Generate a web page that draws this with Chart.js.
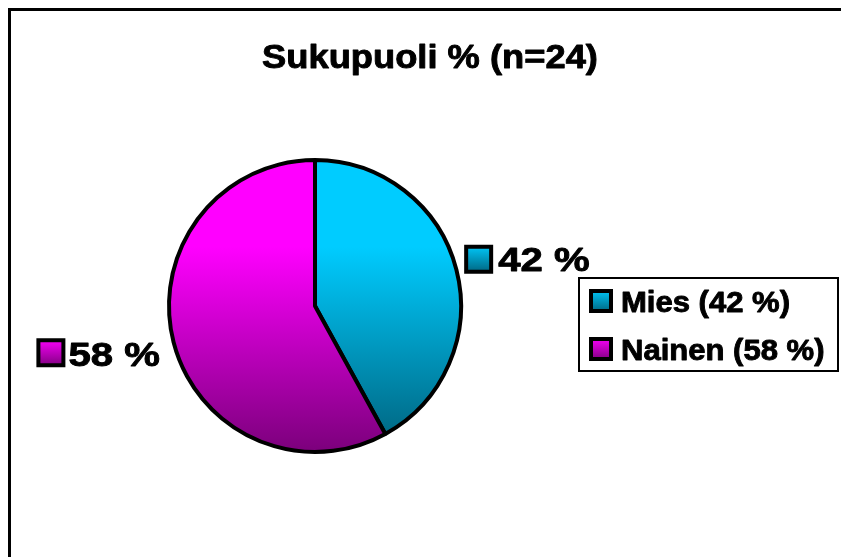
<!DOCTYPE html>
<html>
<head>
<meta charset="utf-8">
<script src="https://cdn.jsdelivr.net/npm/chart.js@4/dist/chart.umd.min.js"></script>
<style>
  body { margin: 0; background: #fff; }
  canvas { display: block; }
</style>
</head>
<body>
<canvas id="pieChart" width="841" height="557"></canvas>
<script>
"use strict";

// chart data
const titleText = 'Sukupuoli % (n=24)';
const categories = ['Mies', 'Nainen'];
const percentages = [42, 58];
const topColors = ['#00CCFF', '#FF00FF'];
const bottomColors = ['#00607a', '#7a007a'];

const FONT = '"Liberation Sans", Arial, sans-serif';

// vertical gradient across the pie
function sliceGradient(context) {
  const chart = context.chart;
  const area = chart.chartArea;
  if (!area) return topColors[context.dataIndex];
  const g = chart.ctx.createLinearGradient(0, area.top, 0, area.bottom);
  g.addColorStop(0, topColors[context.dataIndex]);
  g.addColorStop(0.3, topColors[context.dataIndex]);
  g.addColorStop(1, bottomColors[context.dataIndex]);
  return g;
}

function keyBox(ctx, x, y, size, i) {
  const g = ctx.createLinearGradient(0, y, 0, y + size);
  g.addColorStop(0, topColors[i]);
  g.addColorStop(1, bottomColors[i]);
  ctx.fillStyle = '#000';
  ctx.fillRect(x, y, size, size);
  ctx.fillStyle = g;
  ctx.fillRect(x + 4, y + 4, size - 8, size - 8);
}

// stretched, heavy text like the original export
function wideText(ctx, text, x, y, size, stretch, align) {
  ctx.save();
  ctx.font = 'bold ' + size + 'px ' + FONT;
  const w = ctx.measureText(text).width * stretch;
  let left = x;
  if (align === 'center') left = x - w / 2;
  if (align === 'right') left = x - w;
  ctx.translate(left, y);
  ctx.scale(stretch, 1);
  ctx.textAlign = 'left';
  ctx.textBaseline = 'alphabetic';
  ctx.fillStyle = '#000';
  ctx.strokeStyle = '#000';
  ctx.lineWidth = 0.9;
  ctx.lineJoin = 'round';
  ctx.fillText(text, 0, 0);
  ctx.strokeText(text, 0, 0);
  ctx.restore();
  return w;
}

const decorations = {
  id: 'decorations',
  afterDraw(chart) {
    const ctx = chart.ctx;
    ctx.save();

    // outer frame
    ctx.strokeStyle = '#000';
    ctx.lineWidth = 3;
    ctx.strokeRect(9.5, 9.5, 1000, 1000);

    // title
    wideText(ctx, titleText, 430, 68, 33, 1.1, 'center');

    // data labels next to each slice
    const meta = chart.getDatasetMeta(0);
    meta.data.forEach((arc, i) => {
      const mid = (arc.startAngle + arc.endAngle) / 2;
      const dx = Math.cos(mid), dy = Math.sin(mid);
      const r = arc.outerRadius;
      const cy = arc.y + dy * 190;
      const text = percentages[i] + ' %';
      if (dx >= 0) {
        const x0 = arc.x + dx * (r + 8);
        keyBox(ctx, x0, cy - 14, 29, i);
        wideText(ctx, text, x0 + 34, cy + 12, 34, 1.18, 'left');
      } else {
        const x1 = arc.x + dx * (r + 8) - 6;
        const w = wideText(ctx, text, x1, cy + 13, 34, 1.18, 'right');
        keyBox(ctx, x1 - w - 32, cy - 15, 29, i);
      }
    });

    // legend box
    ctx.lineWidth = 2;
    ctx.strokeStyle = '#000';
    ctx.strokeRect(579, 278, 259, 93);
    categories.forEach((name, i) => {
      const y = 301 + i * 48;
      keyBox(ctx, 589, y - 12, 24, i);
      wideText(ctx, name + ' (' + percentages[i] + ' %)', 621, y + 11, 29, 1.07, 'left');
    });

    ctx.restore();
  }
};

const ctx = document.getElementById('pieChart').getContext('2d');
new Chart(ctx, {
  type: 'pie',
  data: {
    labels: categories,
    datasets: [{
      data: percentages,
      backgroundColor: sliceGradient,
      borderColor: '#000',
      borderWidth: 4
    }]
  },
  options: {
    responsive: false,
    animation: false,
    layout: {
      padding: { left: 167, right: 378, top: 158, bottom: 103 }
    },
    plugins: {
      legend: { display: false },
      title: { display: false },
      tooltip: { enabled: false }
    }
  },
  plugins: [decorations]
});
</script>
</body>
</html>
